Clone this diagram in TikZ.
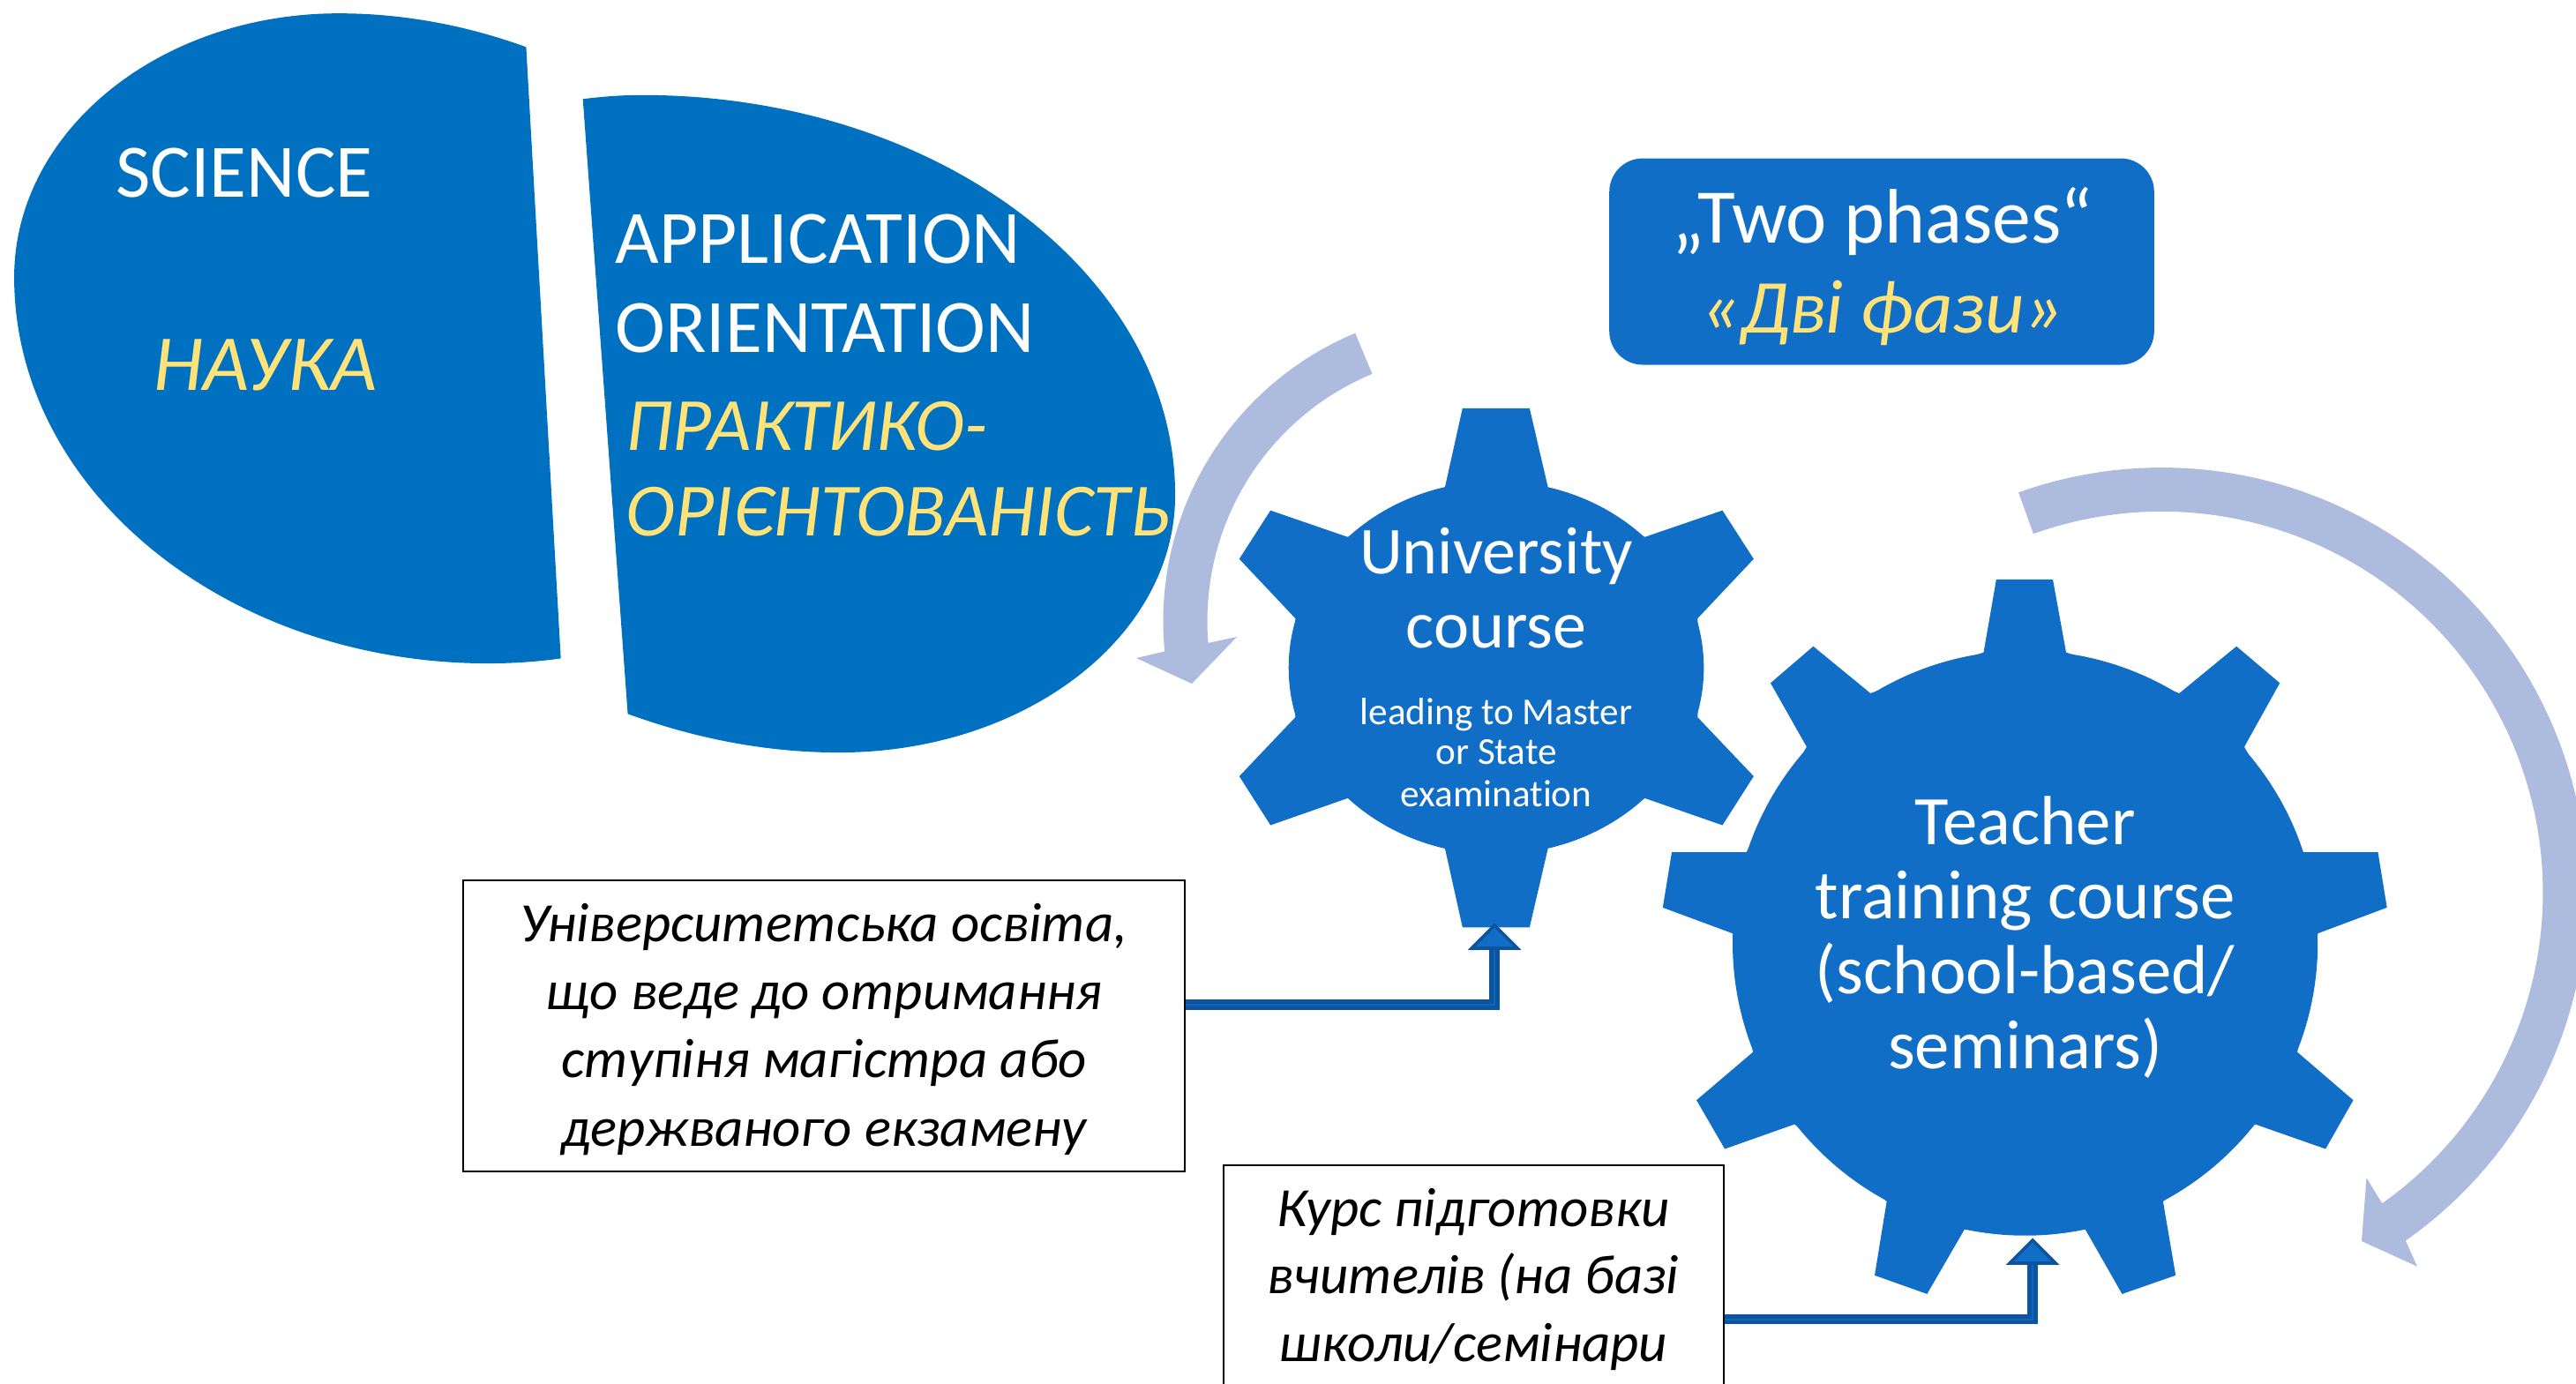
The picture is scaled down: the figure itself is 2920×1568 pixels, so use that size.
\documentclass[tikz,border=0pt]{standalone}
\usepackage{fontspec}
\setmainfont[Ligatures=NoCommon]{Carlito}
\definecolor{blobblue}{RGB}{0,112,192}
\definecolor{gearblue}{RGB}{17,110,198}
\definecolor{paleblue}{RGB}{173,187,223}
\definecolor{softyellow}{RGB}{255,226,120}
\definecolor{linkdark}{RGB}{12,84,158}
\tikzset{
  lbl/.style={inner sep=0pt,anchor=base,text=white},
  lblw/.style={inner sep=0pt,anchor=base west,text=white},
  big/.style={font=\fontsize{21.4}{21.4}\selectfont},
  ybig/.style={font=\fontsize{21.3}{21.3}\selectfont\itshape,text=softyellow},
  gearbig/.style={font=\fontsize{19}{19}\selectfont},
  gearsmall/.style={font=\fontsize{10.8}{10.8}\selectfont},
  gearmid/.style={font=\fontsize{19.7}{19.7}\selectfont},
  boxtxt/.style={inner sep=0pt,anchor=base,text=black,font=\fontsize{15.7}{15.7}\selectfont\itshape},
  notebox/.style={draw=black,fill=white,line width=.5pt,inner sep=0pt},
  link/.style={draw=linkdark,line width=2.8pt,miter limit=10},
  linkin/.style={draw=gearblue!70!linkdark,line width=.6pt},
  tip/.style={fill=gearblue,draw=linkdark,line width=.9pt,line join=miter},
}
\begin{document}
\begin{tikzpicture}[x=.25pt,y=-.25pt]
\useasboundingbox (0,0) rectangle (2920,1568);
\clip (0,0) rectangle (2920,1568);

% two halves of the split egg
\begin{scope}[x=.2232pt,y=-.1403pt]
\fill[blobblue] (668,95) .. controls (590,50) and (510,27) .. (430,27)
  .. controls (202,27) and (18,266) .. (18,560)
  .. controls (18,991) and (288,1340) .. (620,1340)
  .. controls (650,1340) and (680,1337) .. (712,1330) -- cycle;
\fill[blobblue] (740,200) .. controls (765,195) and (790,192) .. (815,192)
  .. controls (1189,192) and (1492,554) .. (1492,1000)
  .. controls (1492,1287) and (1301,1520) .. (1065,1520)
  .. controls (970,1520) and (880,1490) .. (797,1442) -- cycle;
\end{scope}

\node[lbl,big] (science) at (277,223) {SCIENCE};
\node[lbl,font=\fontsize{22.5}{22.5}\selectfont\itshape,text=softyellow] (nauka) at (301,442) {НАУКА};
\node[lblw,big] (appl) at (697,298.6) {APPLICATION};
\node[lblw,big] (orient) at (697,399.6) {ORIENTATION};
\node[lblw,ybig] (prakt) at (709,510.7) {ПРАКТИКО-};
\node[lblw,ybig] (orien) at (709,607) {ОРІЄНТОВАНІСТЬ};

% curved arrows
\fill[paleblue] plot[domain=112.6:185.6,samples=50] ({1672+353.5*cos(\x)},{704-353.5*sin(\x)})
  -- (1288,746) -- (1351,775) -- (1402,722) -- (1369,729)
  -- plot[domain=185:112.6,samples=50] ({1672+303.5*cos(\x)},{704-303.5*sin(\x)}) -- cycle;
\fill[paleblue] plot[domain=109.7:-55,samples=90] ({2450.5+481.8*cos(\x)},{1011.8-481.8*sin(\x)})
  -- (2739.9,1435.6) -- (2677,1407) -- (2682.5,1335.3) -- (2699.6,1363.2)
  -- plot[domain=-54.7:109.7,samples=90] ({2450.5+432*cos(\x)},{1011.8-432*sin(\x)}) -- cycle;

% title box
\node[fill=gearblue,rounded corners=9.5pt,minimum width=154.4pt,minimum height=58.5pt,inner sep=0pt] (phases) at (2133,296.5) {};
\node[lbl,font=\fontsize{21.9}{21.9}\selectfont] (phasesen) at (2134,275) {„Two phases“};
\node[lbl,font=\fontsize{21.6}{21.6}\selectfont\itshape,text=softyellow] (phasesua) at (2134,377) {«Дві фази»};

% university gear
\begin{scope}[shift={(1300,350)},x=.11958pt,y=-.11958pt]
\fill[gearblue] (706,425)--(748,236)--(907,236)--(951,425)
  --(1180,541)--(1364,478)--(1438,593)--(1305,734)
  --(1305,968)--(1438,1108)--(1364,1224)--(1180,1160)
  --(951,1277)--(907,1466)--(748,1466)--(706,1277)
  --(476,1160)--(293,1224)--(219,1108)--(352,968)
  --(352,734)--(219,593)--(293,478)--(476,541)--cycle;
\end{scope}
\fill[gearblue] (1696,757) ellipse [x radius=235.3,y radius=211.4];
\coordinate (gearAfoot) at (1694,1075);
\coordinate (gearAtip) at (1694,1049);
\node[lbl,gearbig] (uni1) at (1696,650.4) {University};
\node[lbl,gearbig] (uni2) at (1696,734.5) {course};
\node[lbl,gearsmall] (uni3) at (1696,821) {leading to Master};
\node[lbl,gearsmall] (uni4) at (1696,866.5) {or State};
\node[lbl,gearsmall] (uni5) at (1696,914.4) {examination};

% teacher gear
\begin{scope}[shift={(1850,500)},x=.1706pt,y=-.1706pt]
\fill[gearblue] (584,351)--(605,230)--(699,230)--(721,351)
  --(909,419)--(1004,341)--(1076,402)--(1017,508)
  --(1115,683)--(1239,683)--(1254,775)--(1139,818)
  --(1105,1015)--(1198,1095)--(1152,1176)--(1035,1135)
  --(882,1263)--(903,1386)--(814,1417)--(753,1310)
  --(552,1310)--(490,1417)--(403,1386)--(423,1263)
  --(270,1135)--(154,1176)--(107,1095)--(201,1015)
  --(167,818)--(51,775)--(66,683)--(190,683)
  --(290,508)--(230,402)--(301,341)--(396,419)--cycle;
\end{scope}
\fill[gearblue] (2295.6,1069.1) circle [radius=331.6];
\coordinate (gearBfoot) at (2304,1432);
\coordinate (gearBtip) at (2304,1406);
\node[lbl,gearmid] (tea1) at (2295.6,957) {Teacher};
\node[lbl,gearmid] (tea2) at (2295.6,1041) {training course};
\node[lbl,gearmid] (tea3) at (2295.6,1126) {(school-based/};
\node[lbl,gearmid] (tea4) at (2295.6,1211.7) {seminars)};

% note boxes
\node[notebox,minimum width=204.5pt,minimum height=82.5pt] (boxA) at (934,1163) {};
\node[boxtxt] (a1) at (934,1067) {Університетська освіта,};
\node[boxtxt] (a2) at (934,1144) {що веде до отримання};
\node[boxtxt] (a3) at (934,1221) {ступіня магістра або};
\node[boxtxt] (a4) at (934,1299) {держваного екзамену};

\node[notebox,minimum width=141.75pt,minimum height=75pt] (boxB) at (1670.5,1471) {};
\node[boxtxt] (b1) at (1670,1390) {Курс підготовки};
\node[boxtxt] (b2) at (1670,1466) {вчителів (на базі};
\node[boxtxt] (b3) at (1670,1543.6) {школи/семінари};

% connectors
\draw[link] ([yshift=6pt]boxA.east) -| (gearAfoot);
\draw[linkin] ([yshift=6pt]boxA.east) -| (gearAfoot);
\filldraw[tip] (gearAtip) -- ++(-26,26) -- ++(52,0) -- cycle;
\draw[link] ([yshift=-6.2pt]boxB.east) -| (gearBfoot);
\draw[linkin] ([yshift=-6.2pt]boxB.east) -| (gearBfoot);
\filldraw[tip] (gearBtip) -- ++(-26,26) -- ++(52,0) -- cycle;
\end{tikzpicture}
\end{document}
